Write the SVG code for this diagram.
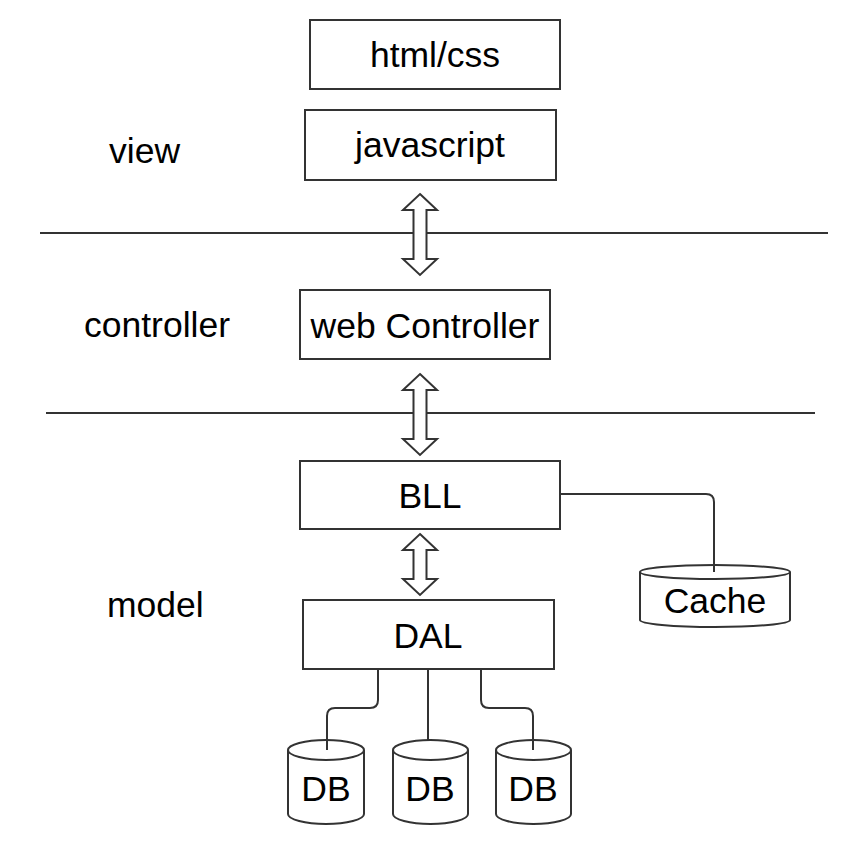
<svg xmlns="http://www.w3.org/2000/svg" width="853" height="845" viewBox="0 0 853 845">
<style>
.box{fill:#fff;stroke:#333;stroke-width:2}
.t{font-family:"Liberation Sans",Arial,sans-serif;font-size:35.5px;fill:#000}
.c{text-anchor:middle}
.ln{fill:none;stroke:#333;stroke-width:2}
.arr{fill:#fff;stroke:#333;stroke-width:2;stroke-linejoin:miter}
</style>
<rect width="853" height="845" fill="#fff"/>
<g id="labels">
<text class="t" x="109" y="163">view</text>
<text class="t" x="84" y="337">controller</text>
<text class="t" x="107" y="617">model</text>
</g>
<g id="separators">
<line class="ln" x1="40" y1="233" x2="828" y2="233"/>
<line class="ln" x1="46" y1="413" x2="815" y2="413"/>
</g>
<g id="connectors">
<path class="ln" d="M560,494 H706 Q714,494 714,502 V572"/>
<path class="ln" d="M378,669 V700 Q378,708 370,708 H335 Q327,708 327,716 V750"/>
<path class="ln" d="M428,669 V740"/>
<path class="ln" d="M481,669 V700 Q481,708 489,708 H525 Q533,708 533,716 V750"/>
<polygon class="arr" points="420,194 437,210 426.5,210 426.5,259 437,259 420,275 403,259 413.5,259 413.5,210 403,210"/>
<polygon class="arr" points="420,374 437,390 426.5,390 426.5,439 437,439 420,455 403,439 413.5,439 413.5,390 403,390"/>
<polygon class="arr" points="420,534 437,550 426.5,550 426.5,579 437,579 420,595 403,579 413.5,579 413.5,550 403,550"/>
</g>
<g id="html">
<rect class="box" x="310" y="20" width="250" height="69"/>
<text class="t c" x="435" y="67">html/css</text>
</g>
<g id="javascript">
<rect class="box" x="305" y="110" width="251" height="70"/>
<text class="t c" x="430" y="157">javascript</text>
</g>
<g id="webController">
<rect class="box" x="300" y="290" width="250" height="69"/>
<text class="t c" x="425" y="338">web Controller</text>
</g>
<g id="BLL">
<rect class="box" x="300" y="461" width="260" height="68"/>
<text class="t c" x="430" y="508">BLL</text>
</g>
<g id="DAL">
<rect class="box" x="303" y="600" width="251" height="69"/>
<text class="t c" x="428" y="648">DAL</text>
</g>
<g id="Cache">
<path class="box" d="M640,572 A75,7 0 0 1 790,572 V620 A75,7 0 0 1 640,620 Z"/>
<path class="ln" d="M640,572 A75,7 0 0 0 790,572"/>
<line class="ln" x1="714" y1="560" x2="714" y2="572"/>
<text class="t c" x="715" y="613">Cache</text>
</g>
<g id="DB1">
<path class="box" d="M288,750 A38,10 0 0 1 364,750 V814 A38,10 0 0 1 288,814 Z"/>
<path class="ln" d="M288,750 A38,10 0 0 0 364,750"/>
<line class="ln" x1="327" y1="738" x2="327" y2="750"/>
<text class="t c" x="326" y="801">DB</text>
</g>
<g id="DB2">
<path class="box" d="M393,750 A37.5,10 0 0 1 468,750 V814 A37.5,10 0 0 1 393,814 Z"/>
<path class="ln" d="M393,750 A37.5,10 0 0 0 468,750"/>
<text class="t c" x="430" y="801">DB</text>
</g>
<g id="DB3">
<path class="box" d="M496,750 A37.5,10 0 0 1 571,750 V814 A37.5,10 0 0 1 496,814 Z"/>
<path class="ln" d="M496,750 A37.5,10 0 0 0 571,750"/>
<line class="ln" x1="533" y1="738" x2="533" y2="750"/>
<text class="t c" x="533" y="801">DB</text>
</g>
</svg>
